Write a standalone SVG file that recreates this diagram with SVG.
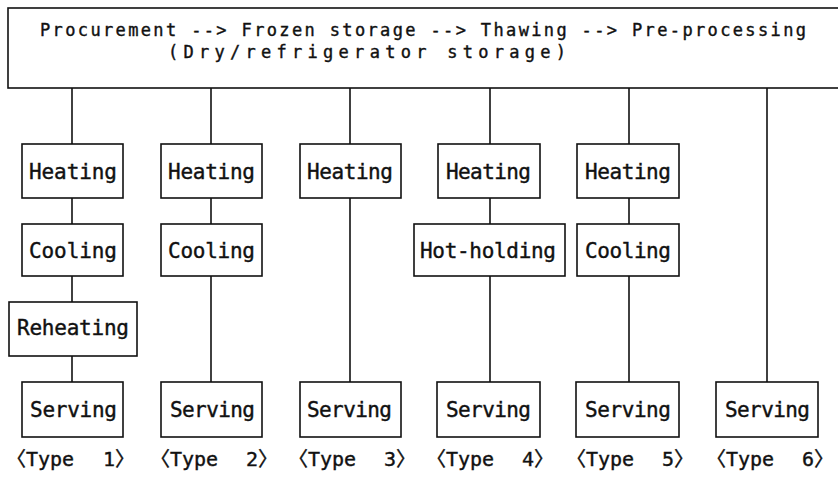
<svg xmlns="http://www.w3.org/2000/svg" width="838" height="477" viewBox="0 0 838 477">
  <style>
    .box { fill: #ffffff; stroke: #111111; stroke-width: 1.6; }
    .conn line { stroke: #111111; stroke-width: 1.6; }
    text { font-family: "DejaVu Sans Mono", "Liberation Mono", monospace; fill: #111111; stroke: #111111; stroke-width: 0.4; }
    .lbl { font-size: 21px; }
    .head { font-size: 17px; }
    .type { font-size: 20px; font-family: "DejaVu Sans Mono", "Noto Sans CJK JP", monospace; }
  </style>
  <rect width="838" height="477" fill="#ffffff"/>

  <!-- connectors -->
  <g id="connectors" class="conn">
    <line x1="72" y1="88" x2="72" y2="144"/>
    <line x1="72" y1="198" x2="72" y2="224"/>
    <line x1="72" y1="276" x2="72" y2="302"/>
    <line x1="72" y1="356" x2="72" y2="382"/>
    <line x1="211" y1="88" x2="211" y2="144"/>
    <line x1="211" y1="198" x2="211" y2="224"/>
    <line x1="211" y1="276" x2="211" y2="382"/>
    <line x1="350" y1="88" x2="350" y2="144"/>
    <line x1="350" y1="198" x2="350" y2="382"/>
    <line x1="490" y1="88" x2="490" y2="144"/>
    <line x1="490" y1="198" x2="490" y2="224"/>
    <line x1="490" y1="276" x2="490" y2="382"/>
    <line x1="629" y1="88" x2="629" y2="144"/>
    <line x1="629" y1="198" x2="629" y2="224"/>
    <line x1="629" y1="276" x2="629" y2="382"/>
    <line x1="767" y1="88" x2="767" y2="382"/>
  </g>

  <!-- common pre-treatment chain -->
  <g id="pretreatment">
    <rect class="box" x="8" y="8" width="834" height="80"/>
    <text class="head" x="40" y="36" textLength="766" lengthAdjust="spacing">Procurement --&gt; Frozen storage --&gt; Thawing --&gt; Pre-processing</text>
    <text class="head" x="168" y="58" textLength="398" lengthAdjust="spacing">(Dry/refrigerator storage)</text>
  </g>

  <!-- Type 1 -->
  <g id="t1-heating"><rect class="box" x="22" y="144" width="101" height="54"/><text class="lbl" x="29" y="179" textLength="88" lengthAdjust="spacing">Heating</text></g>
  <g id="t1-cooling"><rect class="box" x="22" y="224" width="101" height="52"/><text class="lbl" x="29" y="258" textLength="88" lengthAdjust="spacing">Cooling</text></g>
  <g id="t1-reheating"><rect class="box" x="9" y="302" width="128" height="54"/><text class="lbl" x="17" y="335" textLength="112" lengthAdjust="spacing">Reheating</text></g>
  <g id="t1-serving"><rect class="box" x="22" y="382" width="101" height="55"/><text class="lbl" x="30" y="417" textLength="87" lengthAdjust="spacing">Serving</text></g>
  <g id="t1-label"><text class="type" y="466"><tspan x="6">〈Type</tspan> <tspan x="103">1〉</tspan></text></g>

  <!-- Type 2 -->
  <g id="t2-heating"><rect class="box" x="161" y="144" width="101" height="54"/><text class="lbl" x="168" y="179" textLength="87" lengthAdjust="spacing">Heating</text></g>
  <g id="t2-cooling"><rect class="box" x="161" y="224" width="101" height="52"/><text class="lbl" x="168" y="258" textLength="87" lengthAdjust="spacing">Cooling</text></g>
  <g id="t2-serving"><rect class="box" x="161" y="382" width="101" height="55"/><text class="lbl" x="170" y="417" textLength="85" lengthAdjust="spacing">Serving</text></g>
  <g id="t2-label"><text class="type" y="466"><tspan x="150">〈Type</tspan> <tspan x="246">2〉</tspan></text></g>

  <!-- Type 3 -->
  <g id="t3-heating"><rect class="box" x="300" y="144" width="101" height="54"/><text class="lbl" x="307" y="179" textLength="86" lengthAdjust="spacing">Heating</text></g>
  <g id="t3-serving"><rect class="box" x="300" y="382" width="101" height="55"/><text class="lbl" x="307" y="417" textLength="85" lengthAdjust="spacing">Serving</text></g>
  <g id="t3-label"><text class="type" y="466"><tspan x="288">〈Type</tspan> <tspan x="384">3〉</tspan></text></g>

  <!-- Type 4 -->
  <g id="t4-heating"><rect class="box" x="438" y="144" width="102" height="54"/><text class="lbl" x="446" y="179" textLength="85" lengthAdjust="spacing">Heating</text></g>
  <g id="t4-hotholding"><rect class="box" x="414" y="224" width="151" height="52"/><text class="lbl" x="420" y="258" textLength="136" lengthAdjust="spacing">Hot-holding</text></g>
  <g id="t4-serving"><rect class="box" x="437" y="382" width="103" height="55"/><text class="lbl" x="446" y="417" textLength="85" lengthAdjust="spacing">Serving</text></g>
  <g id="t4-label"><text class="type" y="466"><tspan x="426">〈Type</tspan> <tspan x="522">4〉</tspan></text></g>

  <!-- Type 5 -->
  <g id="t5-heating"><rect class="box" x="577" y="144" width="102" height="54"/><text class="lbl" x="585" y="179" textLength="86" lengthAdjust="spacing">Heating</text></g>
  <g id="t5-cooling"><rect class="box" x="577" y="224" width="102" height="52"/><text class="lbl" x="585" y="258" textLength="86" lengthAdjust="spacing">Cooling</text></g>
  <g id="t5-serving"><rect class="box" x="576" y="382" width="103" height="55"/><text class="lbl" x="585" y="417" textLength="86" lengthAdjust="spacing">Serving</text></g>
  <g id="t5-label"><text class="type" y="466"><tspan x="566">〈Type</tspan> <tspan x="662">5〉</tspan></text></g>

  <!-- Type 6 -->
  <g id="t6-serving"><rect class="box" x="716" y="382" width="102" height="55"/><text class="lbl" x="725" y="417" textLength="85" lengthAdjust="spacing">Serving</text></g>
  <g id="t6-label"><text class="type" y="466"><tspan x="706">〈Type</tspan> <tspan x="802">6〉</tspan></text></g>
</svg>
